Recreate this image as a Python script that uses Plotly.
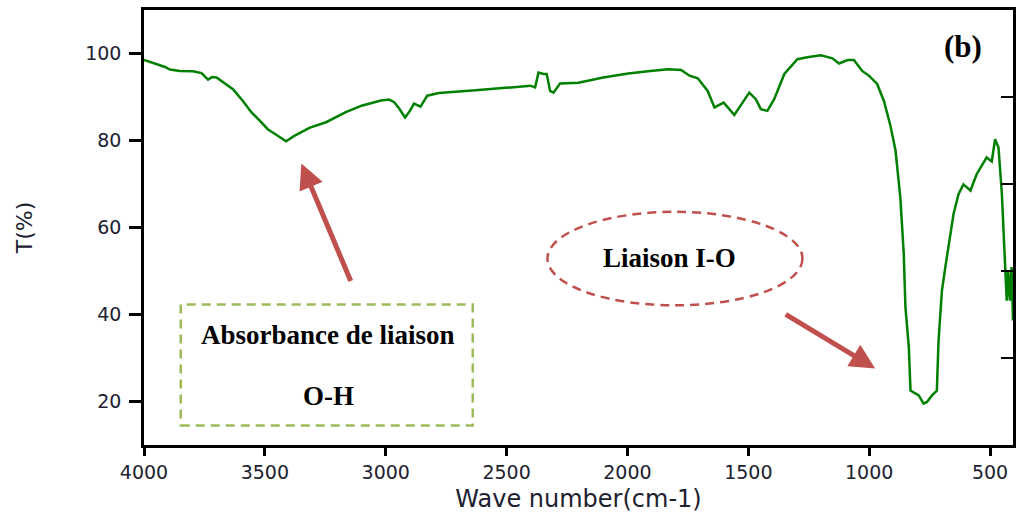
import plotly.graph_objects as go

wavenumber = [4000, 3960, 3913, 3893, 3852, 3797, 3762, 3735, 3718, 3700, 3673, 3632, 3591, 3556, 3520,
              3488, 3450, 3412, 3380, 3316, 3247, 3165, 3100, 3055, 3020, 2986, 2965, 2945, 2920, 2900,
              2883, 2856, 2828, 2780, 2700, 2615, 2505, 2402, 2382, 2368, 2347, 2334, 2320, 2306, 2279,
              2203, 2100, 1997, 1915, 1832, 1778, 1743, 1709, 1668, 1640, 1602, 1558, 1530, 1496, 1469,
              1448, 1421, 1393, 1351, 1297, 1250, 1200, 1152, 1125, 1089, 1063, 1029, 1001, 967, 939,
              912, 891, 871, 857, 850, 836, 829, 809, 795, 775, 761, 740, 720, 713, 699, 685, 671, 651,
              630, 610, 581, 555, 514, 493, 479, 465, 451, 438, 431, 425, 418, 411, 405]
transmittance = [98.5, 97.8, 96.9, 96.3, 96.0, 95.9, 95.5, 94.0, 94.6, 94.5, 93.5, 91.8, 89.1, 86.5, 84.5,
                 82.6, 81.2, 79.8, 81.0, 82.9, 84.2, 86.5, 88.0, 88.7, 89.2, 89.4, 88.8, 87.4, 85.3, 86.8,
                 88.5, 87.8, 90.3, 90.9, 91.3, 91.6, 92.1, 92.6, 92.2, 95.6, 95.3, 95.3, 91.4, 91.0, 93.1,
                 93.3, 94.5, 95.4, 95.9, 96.4, 96.2, 94.9, 94.3, 91.4, 87.6, 88.7, 85.9, 88.2, 91.0, 89.5,
                 87.2, 86.8, 89.5, 95.3, 98.7, 99.2, 99.6, 98.9, 97.7, 98.5, 98.5, 96.0, 94.9, 93.0, 89.1,
                 83.4, 77.7, 66.8, 54.0, 41.7, 32.5, 22.5, 21.8, 21.4, 19.5, 19.9, 21.4, 22.5, 34.0, 45.5,
                 50.9, 55.5, 63.1, 67.7, 69.9, 68.5, 72.3, 76.1, 75.2, 80.3, 78.4, 67.7, 49.3, 43.2, 50.1,
                 43.2, 50.9, 38.6]

x_ticks = [4000, 3500, 3000, 2500, 2000, 1500, 1000, 500]
y_ticks = [20, 40, 60, 80, 100]
right_ticks = [30, 50, 70, 90]

x_range = [4000, 405]
y_range = [10, 110]

RED = "#c0504d"
GREEN_BOX = "#9bbb59"
TICK_FONT = dict(family="DejaVu Sans", size=19, color="#202030")
SERIF = "Liberation Serif"

fig = go.Figure()
fig.add_trace(go.Scatter(x=wavenumber, y=transmittance, mode="lines",
                         line=dict(color="#008000", width=2.5), showlegend=False, hoverinfo="skip"))
fig.add_trace(go.Scatter(x=[x_range[0]], y=[y_range[0]], yaxis="y2", mode="markers",
                         marker=dict(opacity=0), showlegend=False, hoverinfo="skip"))

fig.update_layout(
    width=1017, height=513,
    margin=dict(l=144, r=1, t=10, b=68),
    paper_bgcolor="white", plot_bgcolor="white",
    showlegend=False,
    xaxis=dict(range=x_range, tickvals=x_ticks, ticks="outside", ticklen=8, tickwidth=2.5,
               tickcolor="black", showline=True, linecolor="black", linewidth=2.5, mirror=True,
               showgrid=False, zeroline=False, tickfont=TICK_FONT,
               title=dict(text="Wave number(cm-1)", font=dict(family="DejaVu Sans", size=24, color="#202030"),
                          standoff=13)),
    yaxis=dict(range=y_range, tickvals=y_ticks, ticks="outside", ticklen=12, tickwidth=2.5,
               tickcolor="black", showline=True, linecolor="black", linewidth=2.5, mirror=True,
               showgrid=False, zeroline=False, tickfont=TICK_FONT, ticklabelstandoff=4,
               title=dict(text="T(%)", font=dict(family="DejaVu Sans", size=22, color="#202030"),
                          standoff=47)),
    yaxis2=dict(range=y_range, overlaying="y", side="right", tickvals=right_ticks, ticks="inside",
                ticklen=12, tickwidth=2, tickcolor="black", showticklabels=False, showgrid=False,
                zeroline=False, showline=False),
)

# dashed ellipse around "Liaison I-O"
fig.add_shape(type="circle", xref="x", yref="y", x0=2331, x1=1276, y0=42.1, y1=63.6,
              line=dict(color=RED, width=2.5, dash="9px,6px"))
# dashed box around O-H text
fig.add_shape(type="rect", xref="x", yref="y", x0=3848, x1=2640, y0=14.5, y1=42.3,
              line=dict(color=GREEN_BOX, width=2.5, dash="9px,6px"))

fig.add_annotation(x=1828, y=52.9, xref="x", yref="y", text="<b>Liaison I-O</b>", showarrow=False,
                   xanchor="center", yanchor="middle", font=dict(family=SERIF, size=27, color="black"))
fig.add_annotation(x=3238, y=35.4, xref="x", yref="y", text="<b>Absorbance de liaison</b>", showarrow=False,
                   xanchor="center", yanchor="middle", font=dict(family=SERIF, size=27, color="black"))
fig.add_annotation(x=3238, y=21.2, xref="x", yref="y", text="<b>O-H</b>", showarrow=False,
                   xanchor="center", yanchor="middle", font=dict(family=SERIF, size=27, color="black"))
fig.add_annotation(x=0.9427, y=0.915, xref="paper", yref="paper", text="<b>(b)</b>", showarrow=False,
                   xanchor="center", yanchor="middle", font=dict(family=SERIF, size=31, color="black"))

# arrows
fig.add_annotation(x=3349, y=74.7, xref="x", yref="y", ax=50, ay=119, axref="pixel", ayref="pixel",
                   text="", showarrow=True, arrowhead=2, arrowsize=1, arrowwidth=5, arrowcolor=RED)
fig.add_annotation(x=975, y=27.6, xref="x", yref="y", ax=-91, ay=-55, axref="pixel", ayref="pixel",
                   text="", showarrow=True, arrowhead=2, arrowsize=1, arrowwidth=5, arrowcolor=RED)

fig.write_html("out.html")
